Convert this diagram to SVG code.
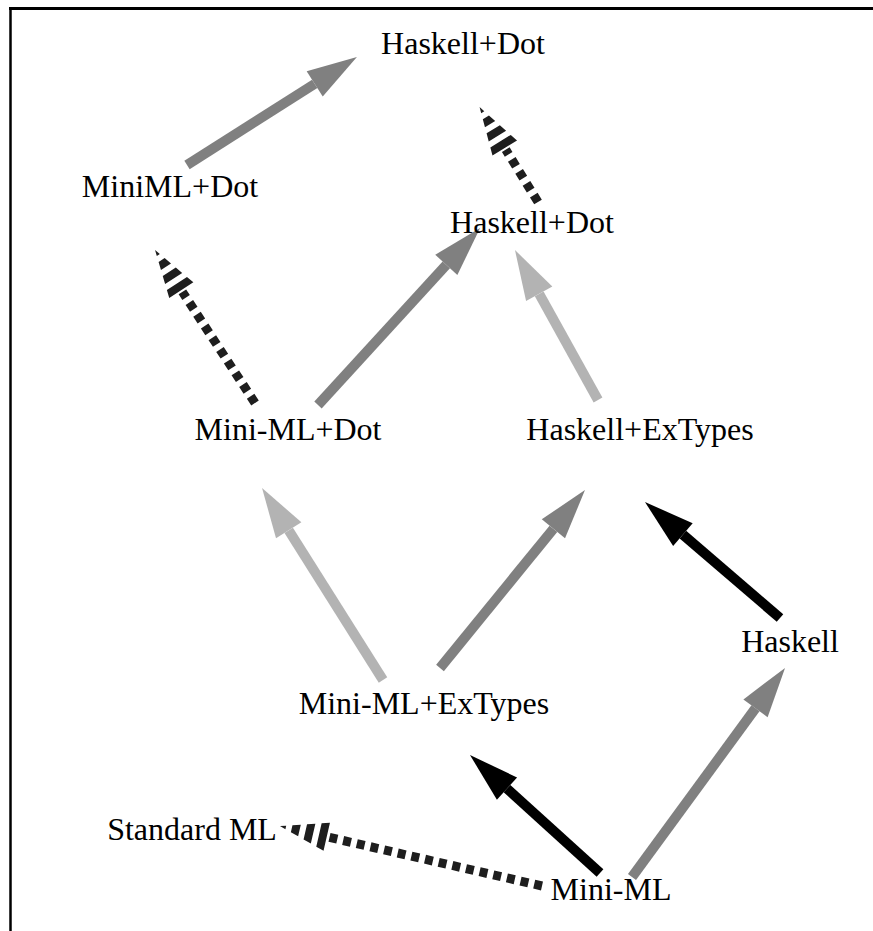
<svg xmlns="http://www.w3.org/2000/svg" width="873" height="931" viewBox="0 0 873 931">
  <style>
    text { font-family: "Liberation Serif", "Times New Roman", serif; font-size: 32px; fill: #000; text-anchor: middle; }
    .solid { fill: none; stroke-width: 10; stroke-linecap: butt; }
    .grey { stroke: #808080; }
    .light { stroke: #b3b3b3; }
    .black { stroke: #000; }
    .dashed { fill: none; stroke: #1e1e1e; stroke-width: 9; stroke-dasharray: 8 6; }
    .frame { fill: none; stroke: #000; }
  </style>
  <defs>
    <marker id="hGrey" markerUnits="userSpaceOnUse" orient="auto" refX="0" refY="0" markerWidth="60" markerHeight="40" overflow="visible">
      <path d="M0,-15 L50,0 L0,15 z" fill="#808080"/>
    </marker>
    <marker id="hLight" markerUnits="userSpaceOnUse" orient="auto" refX="0" refY="0" markerWidth="60" markerHeight="40" overflow="visible">
      <path d="M0,-15 L50,0 L0,15 z" fill="#b3b3b3"/>
    </marker>
    <marker id="hBlack" markerUnits="userSpaceOnUse" orient="auto" refX="0" refY="0" markerWidth="60" markerHeight="40" overflow="visible">
      <path d="M0,-15 L50,0 L0,15 z" fill="#000"/>
    </marker>
    <marker id="hStripe" markerUnits="userSpaceOnUse" orient="auto" refX="0" refY="0" markerWidth="60" markerHeight="40" overflow="visible">
      <path d="M2,-14.4 L10,-12 L10,12 L2,14.4 z M16,-10.2 L24,-7.8 L24,7.8 L16,10.2 z M30,-6 L38,-3.6 L38,3.6 L30,6 z M44,-1.8 L50,0 L44,1.8 z" fill="#1e1e1e"/>
    </marker>
  </defs>

  <g id="frame">
    <path class="frame" d="M9,8.5 H873" stroke-width="3"/>
    <path class="frame" d="M10.5,7 V931" stroke-width="2.5"/>
  </g>

  <g id="connectors">
    <path id="e1" class="solid grey" d="M187,165 L314.7,83.9" marker-end="url(#hGrey)"/>
    <path id="e2" class="dashed" d="M538,202 L505.8,149.7" marker-end="url(#hStripe)"/>
    <path id="e3" class="dashed" d="M255,403 L182.4,291.9" marker-end="url(#hStripe)"/>
    <path id="e4" class="solid grey" d="M318,405 L446.3,264.9" marker-end="url(#hGrey)"/>
    <path id="e5" class="solid light" d="M598,400 L539.2,293.8" marker-end="url(#hLight)"/>
    <path id="e6" class="solid light" d="M383,680 L288.7,530.3" marker-end="url(#hLight)"/>
    <path id="e7" class="solid grey" d="M440,668 L553.4,528.8" marker-end="url(#hGrey)"/>
    <path id="e8" class="solid black" d="M780,618 L682.9,534.6" marker-end="url(#hBlack)"/>
    <path id="e9" class="solid black" d="M600,873 L507,788.6" marker-end="url(#hBlack)"/>
    <path id="e10" class="solid grey" d="M632,877 L755.5,708.3" marker-end="url(#hGrey)"/>
    <path id="e11" class="dashed" d="M542,886 L328.7,837.2" marker-end="url(#hStripe)"/>
  </g>

  <g id="n-haskell-dot-top"><text x="463" y="54">Haskell+Dot</text></g>
  <g id="n-miniml-dot"><text x="170" y="197">MiniML+Dot</text></g>
  <g id="n-haskell-dot-mid"><text x="532" y="233">Haskell+Dot</text></g>
  <g id="n-mini-ml-dot"><text x="288" y="440">Mini-ML+Dot</text></g>
  <g id="n-haskell-extypes"><text x="640" y="440">Haskell+ExTypes</text></g>
  <g id="n-haskell"><text x="790" y="652">Haskell</text></g>
  <g id="n-mini-ml-extypes"><text x="424" y="714">Mini-ML+ExTypes</text></g>
  <g id="n-standard-ml"><text x="192" y="840">Standard ML</text></g>
  <g id="n-mini-ml"><text x="611" y="900">Mini-ML</text></g>
</svg>
